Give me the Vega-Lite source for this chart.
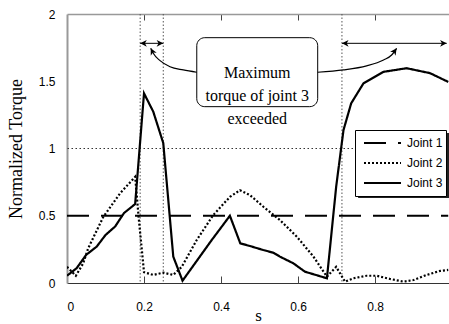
{
  "$schema": "https://vega.github.io/schema/vega-lite/v6.json",
  "width": 382,
  "height": 269,
  "autosize": {"type": "none"},
  "padding": {"left": 67, "top": 14, "right": 0, "bottom": 41},
  "background": "white",
  "config": {"view": {"stroke": null}, "axis": {"grid": false}},
  "datasets": {
    "joints": [
      {"series": "Joint 1", "s": 0, "torque": 0.5},
      {"series": "Joint 1", "s": 0.99, "torque": 0.5},
      {"series": "Joint 2", "s": 0, "torque": 0.12},
      {"series": "Joint 2", "s": 0.023, "torque": 0.054},
      {"series": "Joint 2", "s": 0.042, "torque": 0.146},
      {"series": "Joint 2", "s": 0.055, "torque": 0.258},
      {"series": "Joint 2", "s": 0.094, "torque": 0.49},
      {"series": "Joint 2", "s": 0.138, "torque": 0.667},
      {"series": "Joint 2", "s": 0.177, "torque": 0.79},
      {"series": "Joint 2", "s": 0.186, "torque": 0.49},
      {"series": "Joint 2", "s": 0.2, "torque": 0.08},
      {"series": "Joint 2", "s": 0.224, "torque": 0.06},
      {"series": "Joint 2", "s": 0.25, "torque": 0.077},
      {"series": "Joint 2", "s": 0.276, "torque": 0.06},
      {"series": "Joint 2", "s": 0.298, "torque": 0.12},
      {"series": "Joint 2", "s": 0.337, "torque": 0.32},
      {"series": "Joint 2", "s": 0.38, "torque": 0.506},
      {"series": "Joint 2", "s": 0.423, "torque": 0.64},
      {"series": "Joint 2", "s": 0.449, "torque": 0.69},
      {"series": "Joint 2", "s": 0.475, "torque": 0.654},
      {"series": "Joint 2", "s": 0.51, "torque": 0.567},
      {"series": "Joint 2", "s": 0.553, "torque": 0.468},
      {"series": "Joint 2", "s": 0.597, "torque": 0.344},
      {"series": "Joint 2", "s": 0.64, "torque": 0.196},
      {"series": "Joint 2", "s": 0.675, "torque": 0.047},
      {"series": "Joint 2", "s": 0.699, "torque": 0.12},
      {"series": "Joint 2", "s": 0.722, "torque": 0.01},
      {"series": "Joint 2", "s": 0.744, "torque": 0.035},
      {"series": "Joint 2", "s": 0.778, "torque": 0.054},
      {"series": "Joint 2", "s": 0.804, "torque": 0.054},
      {"series": "Joint 2", "s": 0.839, "torque": 0.03},
      {"series": "Joint 2", "s": 0.874, "torque": 0.01},
      {"series": "Joint 2", "s": 0.9, "torque": 0.022},
      {"series": "Joint 2", "s": 0.934, "torque": 0.06},
      {"series": "Joint 2", "s": 0.969, "torque": 0.09},
      {"series": "Joint 2", "s": 0.99, "torque": 0.097},
      {"series": "Joint 3", "s": 0, "torque": 0.054},
      {"series": "Joint 3", "s": 0.025, "torque": 0.11},
      {"series": "Joint 3", "s": 0.05, "torque": 0.21},
      {"series": "Joint 3", "s": 0.077, "torque": 0.27},
      {"series": "Joint 3", "s": 0.1, "torque": 0.357},
      {"series": "Joint 3", "s": 0.125, "torque": 0.42},
      {"series": "Joint 3", "s": 0.148, "torque": 0.52},
      {"series": "Joint 3", "s": 0.177, "torque": 0.587},
      {"series": "Joint 3", "s": 0.2, "torque": 1.41},
      {"series": "Joint 3", "s": 0.224, "torque": 1.274},
      {"series": "Joint 3", "s": 0.25, "torque": 1.04},
      {"series": "Joint 3", "s": 0.276, "torque": 0.196},
      {"series": "Joint 3", "s": 0.3, "torque": 0.017},
      {"series": "Joint 3", "s": 0.376, "torque": 0.32},
      {"series": "Joint 3", "s": 0.423, "torque": 0.5},
      {"series": "Joint 3", "s": 0.45, "torque": 0.295},
      {"series": "Joint 3", "s": 0.475, "torque": 0.275},
      {"series": "Joint 3", "s": 0.51, "torque": 0.245},
      {"series": "Joint 3", "s": 0.536, "torque": 0.225},
      {"series": "Joint 3", "s": 0.553, "torque": 0.196},
      {"series": "Joint 3", "s": 0.588, "torque": 0.146},
      {"series": "Joint 3", "s": 0.618, "torque": 0.084},
      {"series": "Joint 3", "s": 0.675, "torque": 0.035},
      {"series": "Joint 3", "s": 0.699, "torque": 0.716},
      {"series": "Joint 3", "s": 0.718, "torque": 1.137},
      {"series": "Joint 3", "s": 0.738, "torque": 1.336},
      {"series": "Joint 3", "s": 0.77, "torque": 1.485},
      {"series": "Joint 3", "s": 0.822, "torque": 1.57},
      {"series": "Joint 3", "s": 0.882, "torque": 1.597},
      {"series": "Joint 3", "s": 0.943, "torque": 1.56},
      {"series": "Joint 3", "s": 0.99, "torque": 1.495}
    ],
    "limits": [{"s": 0.19}, {"s": 0.25}, {"s": 0.714}],
    "levels": [{"torque": 1}],
    "legendShadow": [{"s": 0.756, "s2": 0.992, "v": 1.115, "v2": 0.632}],
    "box": [{"s": 0.337, "s2": 0.651, "v": 1.824, "v2": 1.311}],
    "note": [{"s": 0.494, "v": 1.559, "label": "Maximum\ntorque of joint 3\nexceeded"}],
    "spans": [{"a": 0.19, "b": 0.25, "v": 1.782}, {"a": 0.714, "b": 0.986, "v": 1.782}],
    "curves": [
      {"curve": "left", "s": 0.2174, "v": 1.745},
      {"curve": "left", "s": 0.224, "v": 1.708},
      {"curve": "left", "s": 0.2416, "v": 1.653},
      {"curve": "left", "s": 0.2675, "v": 1.608},
      {"curve": "left", "s": 0.302, "v": 1.584},
      {"curve": "left", "s": 0.337, "v": 1.567},
      {"curve": "right", "s": 0.651, "v": 1.567},
      {"curve": "right", "s": 0.718, "v": 1.584},
      {"curve": "right", "s": 0.778, "v": 1.614},
      {"curve": "right", "s": 0.822, "v": 1.658},
      {"curve": "right", "s": 0.843, "v": 1.695},
      {"curve": "right", "s": 0.856, "v": 1.745}
    ],
    "tipLeft": [{"s": 0.2174, "v": 1.745}],
    "tipRight": [{"s": 0.856, "v": 1.745}]
  },
  "resolve": {"axis": {"x": "independent", "y": "independent"}},
  "layer": [
    {
      "data": {"name": "limits"},
      "mark": {"type": "rule", "color": "#555", "strokeWidth": 1, "strokeDash": [1.5, 2]},
      "encoding": {
        "x": {
          "field": "s", "type": "quantitative",
          "scale": {"domain": [0, 0.992], "nice": false, "zero": false},
          "axis": {"orient": "top", "labels": false, "title": null, "values": [0.2, 0.4, 0.6, 0.8], "tickSize": -6, "tickColor": "#444", "domainColor": "#999", "domainWidth": 1.5}
        }
      }
    },
    {
      "data": {"name": "levels"},
      "mark": {"type": "rule", "color": "#333", "strokeWidth": 1, "strokeDash": [1.5, 2.5]},
      "encoding": {
        "y": {
          "field": "torque", "type": "quantitative", "scale": {"domain": [0, 2], "nice": false},
          "axis": {"orient": "left", "title": "Normalized Torque", "values": [0, 0.5, 1, 1.5, 2], "format": "~g", "ticks": false, "domainColor": "#999", "domainWidth": 2, "labelFont": "Liberation Sans", "labelFontSize": 12, "labelColor": "black", "labelPadding": 12, "titleFont": "Liberation Serif", "titleFontSize": 18, "titleFontWeight": "normal", "titleColor": "black", "titleX": -51, "titleY": 134.5, "titleBaseline": "middle", "titleAlign": "center", "titleAngle": -90}
        }
      }
    },
    {
      "data": {"name": "joints"},
      "mark": {"type": "line", "color": "black", "strokeWidth": 2.2, "clip": true},
      "encoding": {
        "x": {
          "field": "s", "type": "quantitative",
          "axis": {"orient": "bottom", "title": "s", "values": [0, 0.2, 0.4, 0.6, 0.8], "format": "~g", "ticks": false, "domainColor": "#333", "labelFont": "Liberation Sans", "labelFontSize": 12, "labelColor": "black", "labelPadding": 18, "titleFont": "Liberation Serif", "titleFontSize": 17, "titleFontWeight": "normal", "titleColor": "black", "titleY": 32, "titleBaseline": "middle"}
        },
        "y": {"field": "torque", "type": "quantitative", "axis": null},
        "strokeDash": {
          "field": "series", "type": "nominal",
          "scale": {"domain": ["Joint 1", "Joint 2", "Joint 3"], "range": [[22, 12], [2, 2], [1, 0]]},
          "legend": {"orient": "none", "legendX": 288, "legendY": 116, "title": null, "fillColor": "white", "strokeColor": "black", "padding": 3, "clipHeight": 20, "rowPadding": 0, "symbolType": "stroke", "symbolSize": 1369, "symbolStrokeWidth": 2, "symbolStrokeColor": "black", "symbolOffset": 5, "labelOffset": 5, "labelFont": "Liberation Sans", "labelFontSize": 12, "labelColor": "black"}
        }
      }
    },
    {
      "data": {"name": "legendShadow"},
      "mark": {"type": "rect", "color": "#222", "clip": true},
      "encoding": {
        "x": {"field": "s", "type": "quantitative", "axis": null},
        "x2": {"field": "s2"},
        "y": {"field": "v", "type": "quantitative", "axis": null},
        "y2": {"field": "v2"}
      }
    },
    {
      "data": {"name": "box"},
      "mark": {"type": "rect", "fill": "white", "stroke": "black", "strokeWidth": 1, "cornerRadius": 8},
      "encoding": {
        "x": {"field": "s", "type": "quantitative", "axis": null},
        "x2": {"field": "s2"},
        "y": {"field": "v", "type": "quantitative", "axis": null},
        "y2": {"field": "v2"}
      }
    },
    {
      "data": {"name": "note"},
      "mark": {"type": "text", "font": "Liberation Serif", "fontSize": 16, "lineHeight": 23, "lineBreak": "\n", "align": "center", "baseline": "middle", "color": "black"},
      "encoding": {
        "x": {"field": "s", "type": "quantitative", "axis": null},
        "y": {"field": "v", "type": "quantitative", "axis": null},
        "text": {"field": "label", "type": "nominal"}
      }
    },
    {
      "data": {"name": "spans"},
      "mark": {"type": "rule", "color": "black", "strokeWidth": 1},
      "encoding": {
        "x": {"field": "a", "type": "quantitative", "axis": null},
        "x2": {"field": "b"},
        "y": {"field": "v", "type": "quantitative", "axis": null}
      }
    },
    {
      "data": {"name": "spans"},
      "mark": {"type": "point", "shape": "M0,0L1.4,-0.7L1,0L1.4,0.7Z", "filled": true, "color": "black", "size": 90, "opacity": 1},
      "encoding": {
        "x": {"field": "a", "type": "quantitative", "axis": null},
        "y": {"field": "v", "type": "quantitative", "axis": null}
      }
    },
    {
      "data": {"name": "spans"},
      "mark": {"type": "point", "shape": "M0,0L1.4,-0.7L1,0L1.4,0.7Z", "filled": true, "color": "black", "size": 90, "angle": 180, "opacity": 1},
      "encoding": {
        "x": {"field": "b", "type": "quantitative", "axis": null},
        "y": {"field": "v", "type": "quantitative", "axis": null}
      }
    },
    {
      "data": {"name": "curves"},
      "mark": {"type": "line", "color": "black", "strokeWidth": 1.2, "interpolate": "monotone"},
      "encoding": {
        "x": {
          "field": "s", "type": "quantitative",
          "axis": {"orient": "bottom", "labels": false, "domain": false, "title": null, "values": [0.2, 0.4, 0.6, 0.8], "tickSize": -7, "tickColor": "#444"}
        },
        "y": {"field": "v", "type": "quantitative", "axis": null},
        "detail": {"field": "curve", "type": "nominal"}
      }
    },
    {
      "data": {"name": "tipLeft"},
      "mark": {"type": "point", "shape": "M0,0L1.4,-0.7L1,0L1.4,0.7Z", "filled": true, "color": "black", "size": 90, "angle": 63, "opacity": 1},
      "encoding": {
        "x": {"field": "s", "type": "quantitative", "axis": null},
        "y": {"field": "v", "type": "quantitative", "axis": null}
      }
    },
    {
      "data": {"name": "tipRight"},
      "mark": {"type": "point", "shape": "M0,0L1.4,-0.7L1,0L1.4,0.7Z", "filled": true, "color": "black", "size": 90, "angle": 125, "opacity": 1},
      "encoding": {
        "x": {"field": "s", "type": "quantitative", "axis": null},
        "y": {"field": "v", "type": "quantitative", "axis": null}
      }
    }
  ]
}
